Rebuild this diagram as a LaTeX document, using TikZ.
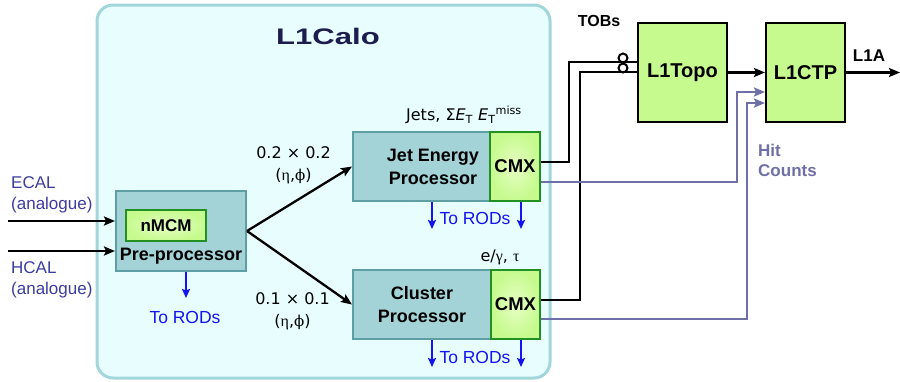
\documentclass[tikz,border=0pt]{standalone}
\usepackage{fontspec}
\setmainfont{Liberation Sans}
\newfontfamily\verd{DejaVu Sans}
\newfontfamily\grk{Liberation Serif}
\newfontfamily\grkb{DejaVu Serif}
\usepackage{graphicx}
\usetikzlibrary{arrows.meta,positioning}
\definecolor{calobg}{HTML}{E8FEFE}
\definecolor{caloedge}{HTML}{A2D6DA}
\definecolor{procfill}{HTML}{A3D3D7}
\definecolor{procedge}{HTML}{5E9FA5}
\definecolor{grn}{HTML}{C6FA8E}
\definecolor{grnlt}{HTML}{E6FFC4}
\definecolor{grnedge}{HTML}{229022}
\definecolor{titc}{HTML}{1C1C4E}
\definecolor{inc}{HTML}{3C3CA0}
\definecolor{rodc}{HTML}{1414F0}
\definecolor{hitc}{HTML}{7070A8}
\tikzset{
  ar/.style={-{Stealth[length=11pt,width=9pt,inset=2pt]},line width=2.3pt,black},
  tob/.style={line width=2.3pt,black},
  hit/.style={-{Stealth[length=11pt,width=9pt,inset=2pt]},line width=2.3pt,hitc},
  rod/.style={-{Stealth[length=9pt,width=8pt,inset=1.5pt]},line width=2pt,rodc},
  calobox/.style={draw=caloedge,line width=3pt,fill=calobg,rounded corners=16pt},
  proc/.style={draw=procedge,line width=2pt,fill=procfill},
  cmx/.style={draw=grnedge,line width=2pt,inner color=grnlt,outer color=grn,
    font=\fontsize{18.5}{21}\selectfont\bfseries},
  nmcm/.style={draw=grnedge,line width=2pt,inner color=grnlt,outer color=grn,
    font=\fontsize{17}{20}\selectfont\bfseries},
  trig/.style={draw=black,line width=2pt,fill=grn,font=\fontsize{20}{22}\selectfont\bfseries},
  ptxt/.style={align=center,inner sep=0pt,font=\fontsize{18}{23}\selectfont\bfseries},
  titletxt/.style={inner sep=0pt,text=titc,font=\fontsize{22.5}{26}\selectfont\bfseries},
  intxt/.style={align=left,inner sep=0pt,text=inc,font=\fontsize{17}{21}\selectfont},
  rodtxt/.style={inner sep=0pt,text=rodc,font=\fontsize{17.5}{20}\selectfont},
  gtxt/.style={align=center,inner sep=0pt,font=\verd\fontsize{16}{22}\selectfont},
  btxt/.style={inner sep=0pt,font=\fontsize{16}{18}\selectfont\bfseries},
  busmk/.style={circle,draw=black,line width=2pt,minimum size=9pt,inner sep=0pt}
}
\begin{document}
\begin{tikzpicture}[x=1pt,y=-1pt]
\useasboundingbox (0,0) rectangle (900,381);
% L1Calo
\node[calobox,minimum width=453pt,minimum height=373pt] (calo) at (323.5,191.5) {};
\node[titletxt] (title) at (328,36) {\scalebox{1.38}[1]{L1Calo}};

\node[proc,minimum width=130pt,minimum height=80pt] (pre) at (181,231) {};
\node[nmcm,minimum width=80pt,minimum height=31pt] (nmcm) at (166,225.5) {nMCM};
\node[ptxt] (pretxt) at (181,256) {Pre-processor};

\node[proc,minimum width=137pt,minimum height=69pt] (jep) at (421.5,166.5) {};
\node[ptxt] (jeptxt) at (433,166.5) {Jet Energy\\Processor};
\node[cmx,minimum width=50pt,minimum height=69pt] (cmxj) at (515,166.5) {CMX};
\node[proc,minimum width=138pt,minimum height=69pt] (cp) at (422,304.5) {};
\node[ptxt] (cptxt) at (422,305) {Cluster\\Processor};
\node[cmx,minimum width=49pt,minimum height=69pt] (cmxc) at (515.5,304.5) {CMX};

% inputs
\coordinate (ecal) at (8,221);
\coordinate (hcal) at (8,251);
\draw[ar] (ecal) -- (ecal -| pre.west);
\draw[ar] (hcal) -- (hcal -| pre.west);
\node[intxt,anchor=west] (ecaltxt) at (11,195) {ECAL\\(analogue)};
\node[intxt,anchor=west] (hcaltxt) at (11,279.5) {HCAL\\(analogue)};

\draw[ar] (pre.east) -- (jep.west);
\draw[ar] (pre.east) -- (cp.west);
\node[gtxt] (gridj) at (293.5,165.5) {0.2 × 0.2\\({\grk η},{\grkb\fontsize{15}{22}\selectfont ϕ})};
\node[gtxt] (gridc) at (292.5,311.5) {0.1 × 0.1\\({\grk η},{\grkb\fontsize{15}{22}\selectfont ϕ})};
\node[gtxt] (jetstxt) at (464,115) {Jets, Σ\textit{E}\textsubscript{T} \textit{E}\textsubscript{T}\textsuperscript{miss}};
\node[gtxt] (emtxt) at (500,257) {e/{\grk γ}, {\grk τ}};

% readout
\coordinate (pr) at (186,298);
\draw[rod] (pr |- pre.south) -- (pr);
\node[rodtxt] (prtxt) at (185,317) {To RODs};
\coordinate (jr1) at (432,229);
\coordinate (jr2) at (521,229);
\draw[rod] (jr1 |- jep.south) -- (jr1);
\draw[rod] (jr2 |- cmxj.south) -- (jr2);
\node[rodtxt] (jrtxt) at (475,218) {To RODs};
\coordinate (cr1) at (432,367);
\coordinate (cr2) at (521,367);
\draw[rod] (cr1 |- cp.south) -- (cr1);
\draw[rod] (cr2 |- cmxc.south) -- (cr2);
\node[rodtxt] (crtxt) at (475,357) {To RODs};

% topo and CTP
\node[trig,minimum width=89pt,minimum height=99pt] (topo) at (682.5,72.5) {L1Topo};
\node[trig,minimum width=79pt,minimum height=99pt] (ctp) at (805.5,72.5) {L1CTP};

\coordinate (tj) at (569,62);
\coordinate (tc) at (580,72);
\draw[tob] ([yshift=4.5pt]cmxj.east) -| (tj) -- (tj -| topo.west);
\draw[tob] ([yshift=4.5pt]cmxc.east) -| (tc) -- (tc -| topo.west);
\node[busmk] (bus1) at (623,58) {};
\node[busmk] (bus2) at (623,68) {};
\node[btxt] (tobtxt) at (599,20.5) {TOBs};

\coordinate (hj) at (737,92);
\coordinate (hc) at (747,103);
\draw[hit] ([yshift=-15.5pt]cmxj.east) -| (hj) -- (hj -| ctp.west);
\draw[hit] ([yshift=-14.5pt]cmxc.east) -| (hc) -- (hc -| ctp.west);
\node[btxt,anchor=west,align=left,text=hitc,font=\fontsize{17}{20}\selectfont\bfseries] (hittxt) at (758,160) {Hit\\Counts};

\draw[ar] (topo.east) -- (ctp.west);
\coordinate (l1a) at (900,72.5);
\draw[ar] (ctp.east) -- (l1a);
\node[btxt,font=\fontsize{17}{20}\selectfont\bfseries] (l1atxt) at (869,56) {L1A};
\end{tikzpicture}
\end{document}
